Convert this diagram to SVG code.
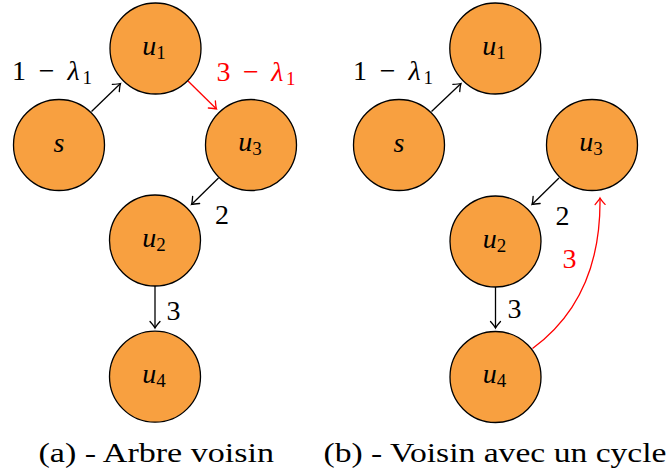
<svg xmlns="http://www.w3.org/2000/svg" width="670" height="473" viewBox="0 0 670 473" font-family="Liberation Serif, DejaVu Serif, serif">
<style>
.node{fill:#F8A040;stroke:#000;stroke-width:1.3}
.t{font-size:28px;fill:#000}
.m{font-style:italic}
.sub{font-size:19px;font-style:normal}
.e{fill:none;stroke:#000;stroke-width:1.3}
.r{stroke:#FF0000}
.red{fill:#FF0000}
</style>
<defs>
<marker id="ah" markerUnits="userSpaceOnUse" markerWidth="14" markerHeight="14" viewBox="-8 -7 10 14" refX="0" refY="0" orient="auto">
<path d="M-6.5,-5 Q-2,-1 0,0 Q-2,1 -6.5,5" fill="none" stroke="#000" stroke-width="1.3" stroke-linecap="round"/>
</marker>
<marker id="ahr" markerUnits="userSpaceOnUse" markerWidth="14" markerHeight="14" viewBox="-8 -7 10 14" refX="0" refY="0" orient="auto">
<path d="M-6.5,-5 Q-2,-1 0,0 Q-2,1 -6.5,5" fill="none" stroke="#FF0000" stroke-width="1.3" stroke-linecap="round"/>
</marker>
</defs>
<rect width="670" height="473" fill="#fff"/>
<g id="connectors">
<line class="e" x1="91.5" y1="111.5" x2="120.5" y2="83.5" marker-end="url(#ah)"/>
<line class="e r" x1="188" y1="81" x2="216.5" y2="109" marker-end="url(#ahr)"/>
<line class="e" x1="218.5" y1="178" x2="191.5" y2="204.5" marker-end="url(#ah)"/>
<line class="e" x1="155" y1="286" x2="155" y2="328" marker-end="url(#ah)"/>
<line class="e" x1="431.5" y1="111.5" x2="461" y2="83.5" marker-end="url(#ah)"/>
<line class="e" x1="559" y1="178" x2="532" y2="204.5" marker-end="url(#ah)"/>
<line class="e" x1="495.5" y1="287" x2="495.5" y2="328" marker-end="url(#ah)"/>
<path class="e r" d="M532.5,348.5 C570,321 601,275 600,198" marker-end="url(#ahr)"/>
</g>
<g id="labels">
<text class="t" x="12" y="79.5" textLength="80" lengthAdjust="spacing">1 − <tspan class="m">λ</tspan><tspan class="sub" dy="4">1</tspan></text>
<text class="t red" x="216.5" y="81" textLength="79" lengthAdjust="spacing">3 − <tspan class="m">λ</tspan><tspan class="sub" dy="4">1</tspan></text>
<text class="t" x="215" y="223.5">2</text>
<text class="t" x="166.5" y="319.5">3</text>
<text class="t" x="353" y="79.5" textLength="80" lengthAdjust="spacing">1 − <tspan class="m">λ</tspan><tspan class="sub" dy="4">1</tspan></text>
<text class="t" x="555.5" y="224.5">2</text>
<text class="t" x="507.5" y="318">3</text>
<text class="t red" x="562.5" y="267.5">3</text>
</g>
<g id="a-s"><circle class="node" cx="59" cy="145" r="45.5"/><text class="t m" x="59" y="152" text-anchor="middle">s</text></g>
<g id="a-u1"><circle class="node" cx="155.5" cy="48.5" r="45.5"/><text class="t" x="154" y="54.5" text-anchor="middle"><tspan class="m">u</tspan><tspan class="sub" dy="4">1</tspan></text></g>
<g id="a-u3"><circle class="node" cx="251" cy="145" r="45.5"/><text class="t" x="250" y="151" text-anchor="middle"><tspan class="m">u</tspan><tspan class="sub" dy="4">3</tspan></text></g>
<g id="a-u2"><circle class="node" cx="155" cy="240.5" r="45.5"/><text class="t" x="154" y="246.5" text-anchor="middle"><tspan class="m">u</tspan><tspan class="sub" dy="4">2</tspan></text></g>
<g id="a-u4"><circle class="node" cx="155" cy="376.7" r="45.5"/><text class="t" x="154" y="382.7" text-anchor="middle"><tspan class="m">u</tspan><tspan class="sub" dy="4">4</tspan></text></g>
<g id="b-s"><circle class="node" cx="399" cy="145" r="45.5"/><text class="t m" x="399" y="152" text-anchor="middle">s</text></g>
<g id="b-u1"><circle class="node" cx="495.3" cy="48.5" r="45.5"/><text class="t" x="494" y="54.5" text-anchor="middle"><tspan class="m">u</tspan><tspan class="sub" dy="4">1</tspan></text></g>
<g id="b-u3"><circle class="node" cx="592" cy="145" r="45.5"/><text class="t" x="591" y="151" text-anchor="middle"><tspan class="m">u</tspan><tspan class="sub" dy="4">3</tspan></text></g>
<g id="b-u2"><circle class="node" cx="495.5" cy="241.5" r="45.5"/><text class="t" x="494.5" y="247.5" text-anchor="middle"><tspan class="m">u</tspan><tspan class="sub" dy="4">2</tspan></text></g>
<g id="b-u4"><circle class="node" cx="495.5" cy="377" r="45.5"/><text class="t" x="494.5" y="383" text-anchor="middle"><tspan class="m">u</tspan><tspan class="sub" dy="4">4</tspan></text></g>
<g id="captions">
<text class="t" x="38.5" y="461.5" textLength="235.5" lengthAdjust="spacingAndGlyphs">(a) - Arbre voisin</text>
<text class="t" x="323.5" y="461.5" textLength="343" lengthAdjust="spacingAndGlyphs">(b) - Voisin avec un cycle</text>
</g>
</svg>
